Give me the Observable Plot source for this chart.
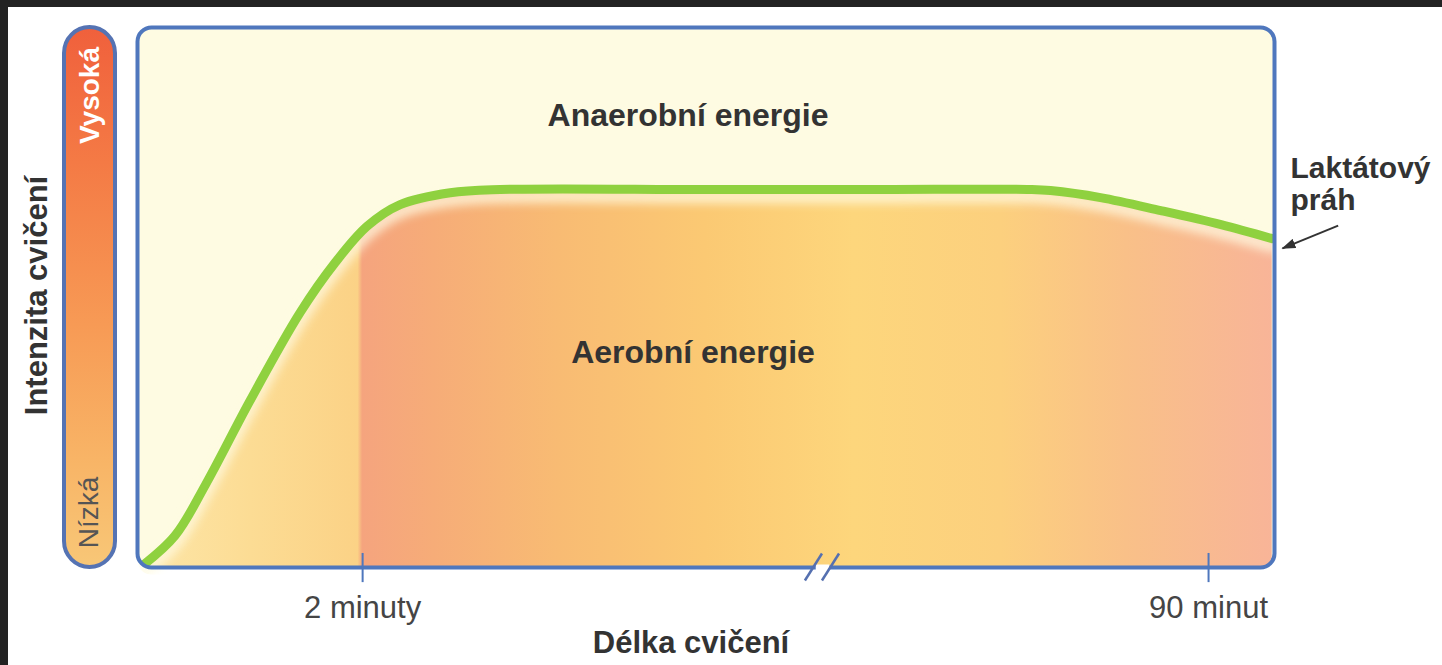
<!DOCTYPE html>
<html><head><meta charset="utf-8">
<script src="https://cdn.jsdelivr.net/npm/d3@7"></script>
<script src="https://cdn.jsdelivr.net/npm/@observablehq/plot@0.6"></script>
<style>
html,body{margin:0;padding:0;background:#232323;width:1442px;height:665px;overflow:hidden;}
#wrap{position:absolute;left:8px;top:7px;width:1434px;height:658px;background:#fff;}
</style></head><body><div id="wrap"></div>
<script>
// ---- data (schematic) ----
const timePos = [0.35, 3.3, 6.0, 9.9, 14.3, 17.4, 20.2, 23.1, 27.5, 31.9, 50, 65, 78.5, 80.3, 84.7, 90.0, 95.3, 99.8];
const lactateThreshold = [0.2, 5.9, 15.4, 30.9, 47.2, 56.5, 63.2, 67.2, 69.4, 70.0, 70.0, 70.0, 70.0, 69.8, 68.5, 66.1, 63.5, 60.9];
const tickPos = [19.8, 94.2];
const tickLabels = ["2 minuty", "90 minut"];
const breakPos = [60.2];
const timeDomain = [0, 100];
const intensityDomain = [0, 100];
const zoneLabels = ["Anaerobní energie", "Aerobní energie"];
const intensityLabels = ["Vysoká", "Nízká"];
const thresholdLabel = "Laktátový\npráh";
const xTitle = "Délka cvičení";
const yTitle = "Intenzita cvičení";

// ---- layout / style ----
const W = 1434, H = 658, ml = 129, mr = 168, mt = 20, mb = 98;
const FONT = "'Liberation Sans', Arial, Helvetica, sans-serif";
const blue = "#4f77bd", green = "#8fd13f", ink = "#333333", cream = "#fefbe2";

const curve = timePos.map((t, i) => ({t, v: lactateThreshold[i]}));
const last = curve[curve.length - 1];
const base = intensityDomain[0] - 6;
const T = {lineAnchor: "middle", textAnchor: "middle"};

const chart = Plot.plot({
  width: W, height: H,
  marginLeft: ml, marginRight: mr, marginTop: mt, marginBottom: mb,
  style: {fontFamily: FONT, background: "white", overflow: "visible"},
  x: {domain: timeDomain, axis: null},
  y: {domain: intensityDomain, axis: null},
  marks: [
    Plot.frame({fill: cream, rx: 14}),
    Plot.area(curve, {x1: "t", y1: () => base, y2: "v", fill: "url(#aeroGrad)", curve: "catmull-rom"}),
    // soft light band under the threshold line
    Plot.line(curve, {x: "t", y: "v", stroke: cream, strokeWidth: 14, dy: 7, opacity: 0.75, curve: "catmull-rom"}),
    Plot.line(curve, {x: "t", y: "v", stroke: green, strokeWidth: 9, curve: "catmull-rom", strokeLinecap: "round"}),
    Plot.frame({stroke: blue, strokeWidth: 4, rx: 14}),
    // axis break
    Plot.link(breakPos, {x1: d => d - 0.55, x2: d => d + 0.65, y1: () => 0, y2: () => 0, stroke: "white", strokeWidth: 6}),
    Plot.link(breakPos.flatMap(b => [b - 0.75, b + 0.75]), {x1: d => d - 0.75, x2: d => d + 0.75, y1: () => -2.4, y2: () => 2.6, stroke: "#5570b0", strokeWidth: 2.5}),
    // ticks
    Plot.ruleX(tickPos, {x: d => d, y1: () => -2.8, y2: () => 2.6, stroke: blue, strokeWidth: 2}),
    Plot.text(tickPos, {...T, x: d => d, text: (d, i) => tickLabels[i], frameAnchor: "bottom", dy: 41, fontSize: 31, fill: "#454545"}),
    Plot.text([xTitle], {...T, text: d => d, frameAnchor: "bottom", dx: -15, dy: 76, fontSize: 31, fontWeight: "bold", fill: ink}),
    // zone labels
    Plot.text([zoneLabels[0]], {...T, text: d => d, frameAnchor: "top", dx: -18, dy: 88, fontSize: 32, fontWeight: "bold", fill: ink}),
    Plot.text([zoneLabels[1]], {...T, text: d => d, frameAnchor: "top", dx: -13, dy: 325, fontSize: 32, fontWeight: "bold", fill: ink}),
    // threshold annotation
    Plot.text([thresholdLabel], {text: d => d, frameAnchor: "top-right", textAnchor: "start", lineAnchor: "middle", dx: 16, dy: 156, lineHeight: 1.08, fontSize: 30, fontWeight: "bold", fill: ink}),
    Plot.link([last], {x1: d => d.t + 5.8, y1: d => d.v + 2.4, x2: d => d.t + 0.9, y2: d => d.v - 1.8, stroke: ink, strokeWidth: 2}),
    // intensity bar (legend for the y scale)
    Plot.rect([intensityDomain], {x1: () => timeDomain[0], x2: () => timeDomain[0], y1: d => d[0], y2: d => d[1], insetLeft: -73, insetRight: 22, rx: 26, fill: "url(#barGrad)", stroke: "#5573b3", strokeWidth: 4}),
    Plot.text([intensityLabels[0]], {...T, text: d => d, frameAnchor: "top-left", dx: -47, dy: 68, rotate: -90, fill: "white", fontWeight: "bold", fontSize: 28}),
    Plot.text([intensityLabels[1]], {...T, text: d => d, frameAnchor: "bottom-left", dx: -48, dy: -55, rotate: -90, fill: "#555", fontSize: 28}),
    Plot.text([yTitle], {...T, text: d => d, frameAnchor: "left", dx: -100, dy: -2, rotate: -90, fill: ink, fontWeight: "bold", fontSize: 31})
  ]
});

// ---- gradients, blur, arrow head and rounded clip ----
const svg = d3.select(chart);
const defs = svg.insert("defs", ":first-child");
const xs = chart.scale("x");
const x0 = ml, x1 = W - mr;
const off = v => (xs.apply(v) - x0) / (x1 - x0);
const split = off(tickPos[0]);
const aStops = [
  [0, "#fde6a8"], [0.10, "#fcdc94"], [split - 0.004, "#fbd286"],
  [split, "#f5a47e"], [0.26, "#f6ac78"], [0.37, "#f8bb73"], [0.50, "#fbc973"],
  [0.63, "#fdd67c"], [0.76, "#fcd07e"], [0.87, "#f9c088"], [1, "#f8b498"]
];
const ag = defs.append("linearGradient").attr("id", "aeroGrad").attr("gradientUnits", "userSpaceOnUse")
  .attr("x1", x0).attr("x2", x1).attr("y1", 0).attr("y2", 0);
aStops.forEach(([o, c]) => ag.append("stop").attr("offset", o).attr("stop-color", c));
const bg = defs.append("linearGradient").attr("id", "barGrad").attr("x1", 0).attr("x2", 0).attr("y1", 0).attr("y2", 1);
[[0, "#f0603c"], [0.25, "#f47a45"], [0.55, "#f79a55"], [0.8, "#f8b466"], [1, "#f8c777"]]
  .forEach(([o, c]) => bg.append("stop").attr("offset", o).attr("stop-color", c));
defs.append("filter").attr("id", "soft").attr("x", -0.1).attr("y", -0.3).attr("width", 1.2).attr("height", 1.6)
  .append("feGaussianBlur").attr("stdDeviation", 5);
defs.append("clipPath").attr("id", "frameClip").append("rect")
  .attr("x", x0).attr("y", mt).attr("width", x1 - x0).attr("height", H - mt - mb).attr("rx", 14);
defs.append("marker").attr("id", "ahead").attr("viewBox", "0 0 14 10").attr("refX", 13).attr("refY", 5)
  .attr("markerWidth", 7).attr("markerHeight", 5).attr("orient", "auto").attr("markerUnits", "strokeWidth")
  .append("path").attr("d", "M0,0L14,5L0,10Z").attr("fill", ink);
svg.selectAll("g[aria-label='area'], g[aria-label='line']").attr("clip-path", "url(#frameClip)");
const lines = svg.selectAll("g[aria-label='line']").nodes();
d3.select(lines[0]).selectAll("path").attr("filter", "url(#soft)");
const links = svg.selectAll("g[aria-label='link']").nodes();
d3.select(links[links.length - 1]).selectAll("path").attr("marker-end", "url(#ahead)");

document.getElementById("wrap").appendChild(chart);
</script></body></html>
